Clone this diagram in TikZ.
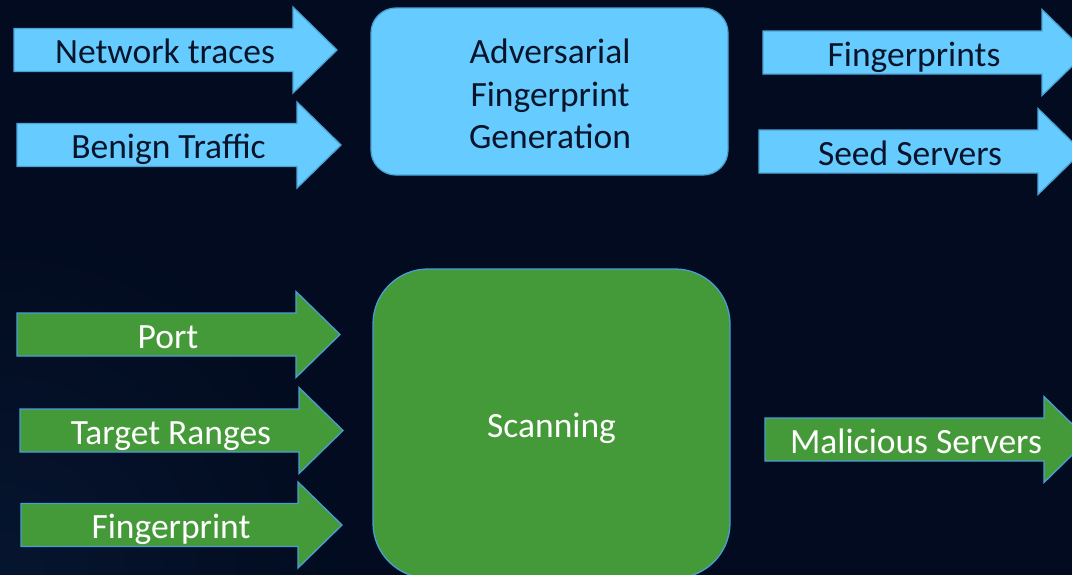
\documentclass[tikz,border=0pt]{standalone}
\usepackage{fontspec}
\newfontfamily\slidefont{Carlito}
\definecolor{bgnavy}{HTML}{020B1F}
\definecolor{bgglow}{HTML}{06152F}
\definecolor{skyfill}{HTML}{66CCFF}
\definecolor{skyline}{HTML}{4BA3D3}
\definecolor{leaf}{HTML}{449A38}
\definecolor{leafline}{HTML}{4A9ED5}
\definecolor{inkdark}{HTML}{08142A}
\begin{document}
\begin{tikzpicture}[x=1pt, y=-1pt]
    \tikzstyle{bluearrow_style}=[fill=skyfill, draw=skyline, line width=1.3pt, line join=miter]
    \tikzstyle{greenarrow_style}=[fill=leaf, draw=leafline, line width=1.3pt, line join=miter]
    \tikzstyle{bluetext_style}=[inner sep=0pt, text=inkdark, font=\slidefont\fontsize{35.5}{42.5}\selectfont]
    \tikzstyle{greentext_style}=[inner sep=0pt, text=white, font=\slidefont\fontsize{35.5}{42.5}\selectfont]

    % slide
    \useasboundingbox (0,0) rectangle (1072,574);
    \fill[bgnavy] (-10,-10) rectangle (1082,584);
    \begin{scope}
      \clip (-10,-10) rectangle (1082,584);
      \shade[inner color=bgglow, outer color=bgnavy] (-360,214) rectangle (360,934);
    \end{scope}

    % blue arrows
    \foreach \nm/\lx/\cy/\bx/\txt in {traces/14/50/293/Network traces, benign/17/145/297/Benign Traffic,
                                     fps/763/52.5/1042/Fingerprints, seeds/759/151.5/1038/Seed Servers} {
      \draw[bluearrow_style] (\lx,\cy-21.5) -- (\bx,\cy-21.5) -- (\bx,\cy-43) -- (\bx+44,\cy)
        -- (\bx,\cy+43) -- (\bx,\cy+21.5) -- (\lx,\cy+21.5) -- cycle;
      \node[bluetext_style, anchor=base] (\nm) at ({(\lx+\bx)/2+11.5},\cy+13.5) {\txt};
    }

    % green arrows
    \foreach \nm/\lx/\cy/\bx/\txt in {port/17/334.5/296/Port, ranges/20/430.5/299/Target Ranges,
                                     fp/21/525/298/Fingerprint, malicious/765/439.5/1044/Malicious Servers} {
      \draw[greenarrow_style] (\lx,\cy-21.5) -- (\bx,\cy-21.5) -- (\bx,\cy-43) -- (\bx+44,\cy)
        -- (\bx,\cy+43) -- (\bx,\cy+21.5) -- (\lx,\cy+21.5) -- cycle;
      \node[greentext_style, anchor=base] (\nm) at ({(\lx+\bx)/2+11.5},\cy+13.5) {\txt};
    }

    % boxes
    \node at (549.5, 91.5) [fill=skyfill, draw=skyline, line width=1.3pt,
      rounded corners=25pt, minimum width=357pt, minimum height=167pt] (generation) {};
    \node at (550, 94) [bluetext_style, align=center] (generation_text)
      {Adversarial\\Fingerprint\\Generation};
    \node at (551.5, 423.5) [fill=leaf, draw=leafline, line width=1.3pt,
      rounded corners=55pt, minimum width=357pt, minimum height=309pt] (scanning) {};
    \node at (551.5, 437) [greentext_style, anchor=base] (scanning_text) {Scanning};

\end{tikzpicture}
\end{document}
